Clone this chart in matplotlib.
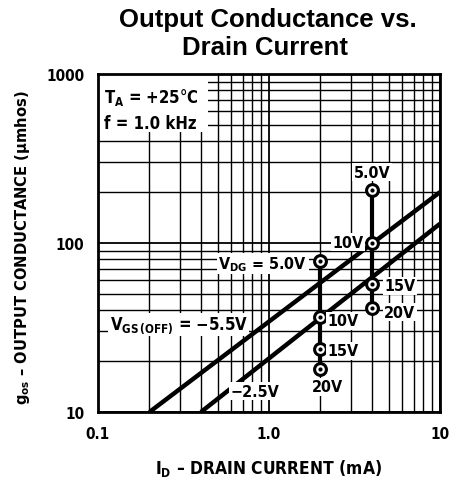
import matplotlib
matplotlib.use("Agg")
from matplotlib import pyplot as plt
from matplotlib.patches import Rectangle
from matplotlib.ticker import LogLocator, NullFormatter, FixedLocator, FixedFormatter

plt.rcParams['font.family'] = ['DejaVu Sans']
plt.rcParams['font.stretch'] = 'condensed'
plt.rcParams['font.weight'] = 'bold'
plt.rcParams['mathtext.fontset'] = 'custom'
plt.rcParams['mathtext.rm'] = 'DejaVu Sans:weight=bold:stretch=condensed'
plt.rcParams['mathtext.it'] = 'DejaVu Sans:weight=bold:stretch=condensed'
plt.rcParams['mathtext.bf'] = 'DejaVu Sans:weight=bold:stretch=condensed'

# V_GS(OFF) curves (end points)
id_55 = [0.2, 10.0]
gos_55 = [10.0, 200.0]
id_25 = [0.4, 10.0]
gos_25 = [10.0, 130.0]

# V_DG points at two drain currents
vdg_labels = ['5.0V', '10V', '15V', '20V']
id_a = 2.0
gos_a = [78, 36.5, 23.5, 18]
id_b = 4.0
gos_b = [205, 100, 57, 41]

x_ticks = [0.1, 1.0, 10]
x_tick_labels = ['0.1', '1.0', '10']
y_ticks = [10, 100, 1000]
y_tick_labels = ['10', '100', '1000']

fig = plt.figure(figsize=(4.52, 4.85), dpi=100)
ax = fig.add_axes([98 / 452, 1 - 413 / 485, 342 / 452, 338 / 485])
ax.set_xscale('log')
ax.set_yscale('log')
ax.set_xlim(0.1, 10)
ax.set_ylim(10, 1000)

ax.xaxis.set_major_locator(FixedLocator(x_ticks))
ax.xaxis.set_major_formatter(FixedFormatter(x_tick_labels))
ax.yaxis.set_major_locator(FixedLocator(y_ticks))
ax.yaxis.set_major_formatter(FixedFormatter(y_tick_labels))
ax.xaxis.set_minor_locator(LogLocator(base=10, subs=range(2, 10)))
ax.yaxis.set_minor_locator(LogLocator(base=10, subs=range(2, 10)))
ax.xaxis.set_minor_formatter(NullFormatter())
ax.yaxis.set_minor_formatter(NullFormatter())
ax.grid(True, which='major', color='black', linewidth=1.3)
ax.grid(True, which='minor', color='black', linewidth=1.0)
ax.tick_params(which='both', length=0, labelsize=11, pad=10)
for s in ax.spines.values():
	s.set_linewidth(2)
	s.set_zorder(8)

# white area behind the conditions text
ax.add_patch(Rectangle((0, 0.828), 0.322, 0.172, transform=ax.transAxes,
	facecolor='white', edgecolor='none', zorder=2))

ax.plot(id_55, gos_55, color='black', linewidth=3.2, solid_capstyle='butt', zorder=3)
ax.plot(id_25, gos_25, color='black', linewidth=3.2, solid_capstyle='butt', zorder=3)

for x, ys in [(id_a, gos_a), (id_b, gos_b)]:
	ax.plot([x, x], [ys[0], ys[-1]], color='black', linewidth=3, zorder=4)
	ax.plot([x] * len(ys), ys, linestyle='none', marker='o', markersize=8.5,
		markerfacecolor='white', markeredgecolor='black', markeredgewidth=2.2, zorder=5)
	ax.plot([x] * len(ys), ys, linestyle='none', marker='o', markersize=2,
		color='black', zorder=6)

box = dict(facecolor='white', edgecolor='none', pad=1.0)
fs = 11.5

# conditions
ax.text(0.108, 741, '$\\mathregular{T_A}$ = +25°C', fontsize=12, va='center', ha='left', zorder=7)
ax.text(0.108, 513, 'f = 1.0 kHz', fontsize=12, va='center', ha='left', zorder=7)

# labels for the 4 mA column
ax.text(id_b, 263, vdg_labels[0], fontsize=fs, ha='center', va='center', bbox=box, zorder=7)
ax.text(id_b * 0.89, gos_b[1] * 1.01, vdg_labels[1], fontsize=fs, ha='right', va='center', bbox=box, zorder=7)
ax.text(id_b * 1.18, gos_b[2] * 0.98, vdg_labels[2], fontsize=fs, ha='left', va='center', bbox=box, zorder=7)
ax.text(id_b * 1.18, gos_b[3] * 0.95, vdg_labels[3], fontsize=fs, ha='left', va='center', bbox=box, zorder=7)

# labels for the 2 mA column
ax.text(id_a * 0.84, gos_a[0] * 0.97, '$\\mathregular{V_{DG}}$ = 5.0V', fontsize=fs, ha='right', va='center', bbox=box, zorder=7)
ax.text(id_a * 1.1, gos_a[1] * 0.95, vdg_labels[1], fontsize=fs, ha='left', va='center', bbox=box, zorder=7)
ax.text(id_a * 1.1, gos_a[2] * 0.98, vdg_labels[2], fontsize=fs, ha='left', va='center', bbox=box, zorder=7)
ax.text(id_a * 1.1, 14.1, vdg_labels[3], fontsize=fs, ha='center', va='center', bbox=box, zorder=7)

# curve labels
ax.text(0.117, 33, '$\\mathregular{V_{GS\\,(OFF)}}$ = \u22125.5V', fontsize=12, ha='left', va='center', bbox=box, zorder=2.5)
ax.text(0.828, 13.3, '\u22122.5V', fontsize=fs, ha='center', va='center', bbox=box, zorder=7)

ax.set_xlabel('$\\mathregular{I_D}$ \u2013 DRAIN CURRENT (mA)', fontsize=12.5, fontweight='bold')
ax.xaxis.set_label_coords(0.5, -(458 - 413) / 338)
ax.set_ylabel('$\\mathregular{g_{os}}$ \u2013 OUTPUT CONDUCTANCE (\u03bcmhos)', fontsize=11.8, fontweight='bold')
ax.yaxis.set_label_coords(-(98 - 32) / 342, (413 - 248) / 338)

fig.text(0.593, 0.958, 'Output Conductance vs.', family='Liberation Sans',
	fontsize=18.5, fontweight='bold', stretch='normal', ha='center', va='center')
fig.text(0.586, 0.902, 'Drain Current', family='Liberation Sans',
	fontsize=18.5, fontweight='bold', stretch='normal', ha='center', va='center')

plt.savefig('out.png', dpi=100)
